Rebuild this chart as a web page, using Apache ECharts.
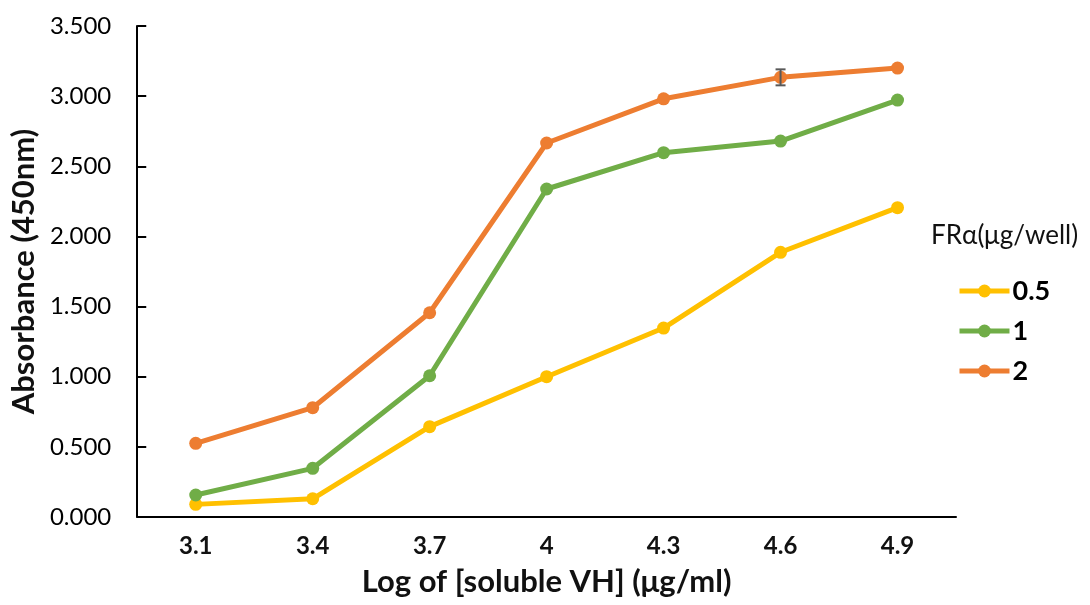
<!DOCTYPE html>
<html lang="en">
<head>
    <meta charset="UTF-8">
    <title>Absorbance</title>
    <script src="https://cdn.jsdelivr.net/npm/echarts@6/dist/echarts.min.js"></script>
    <style>
        html, body { margin: 0; padding: 0; background: #fff; }
        #chart { width: 1090px; height: 605px; }
    </style>
</head>
<body>
<div id="chart"></div>
<script>
    /* data */
    var categories = ['3.1', '3.4', '3.7', '4', '4.3', '4.6', '4.9'];
    var seriesNames = ['0.5', '1', '2'];
    var values05 = [0.09, 0.13, 0.644, 1.0, 1.347, 1.887, 2.205];
    var values1 = [0.157, 0.347, 1.007, 2.338, 2.597, 2.68, 2.972];
    var values2 = [0.525, 0.779, 1.456, 2.666, 2.981, 3.134, 3.2];
    var errors2 = [0, 0, 0, 0, 0, 0.057, 0];

    var colors = ['#FFC000', '#70AD47', '#ED7D31'];
    var font = 'Lato, "Open Sans", sans-serif';

    var errData = [];
    for (var i = 0; i < values2.length; i++) {
        if (errors2[i] > 0) {
            errData.push([i, values2[i] - errors2[i], values2[i] + errors2[i]]);
        }
    }

    function lineSeries(name, data, color) {
        return {
            name: name,
            type: 'line',
            data: data,
            symbol: 'circle',
            symbolSize: 13,
            lineStyle: { width: 5, color: color },
            itemStyle: { color: color },
            z: 3
        };
    }

    var option = {
        animation: false,
        color: colors,
        title: {
            text: 'FRα(μg/well)',
            left: 926,
            top: 218,
            textStyle: { fontFamily: font, fontSize: 26, fontWeight: 'normal', color: '#111' }
        },
        legend: {
            orient: 'vertical',
            left: 952,
            top: 272,
            itemGap: 12,
            itemWidth: 50,
            itemHeight: 16,
            data: seriesNames,
            selectedMode: false,
            lineStyle: { width: 5 },
            textStyle: { fontFamily: font, fontSize: 27, lineHeight: 28, fontWeight: 'bold', color: '#000', padding: [0, 0, 0, -2] }
        },
        grid: {
            left: 134,
            right: 134,
            top: 26,
            bottom: 88
        },
        xAxis: {
            type: 'category',
            data: categories,
            boundaryGap: true,
            name: 'Log of [soluble VH] (μg/ml)',
            nameLocation: 'middle',
            nameGap: 49,
            nameTextStyle: { fontFamily: font, fontSize: 31, fontWeight: 'bold', color: '#111' },
            axisLine: { lineStyle: { color: '#000', width: 2 } },
            axisTick: { show: false },
            axisLabel: { fontFamily: font, fontSize: 24, fontWeight: 'bold', color: '#111', margin: 17 }
        },
        yAxis: {
            type: 'value',
            min: 0,
            max: 3.5,
            interval: 0.5,
            name: 'Absorbance (450nm)',
            nameLocation: 'middle',
            nameGap: 90,
            nameTextStyle: { fontFamily: font, fontSize: 31, fontWeight: 'bold', color: '#111' },
            axisLine: { show: true, lineStyle: { color: '#000', width: 2 } },
            axisTick: { show: true, inside: true, length: 9, lineStyle: { color: '#000', width: 2 } },
            splitLine: { show: false },
            axisLabel: {
                fontFamily: font, fontSize: 24, fontWeight: 'normal', color: '#000', margin: 26,
                formatter: function (v) { return v.toFixed(3); }
            }
        },
        series: [
            lineSeries(seriesNames[0], values05, colors[0]),
            lineSeries(seriesNames[1], values1, colors[1]),
            lineSeries(seriesNames[2], values2, colors[2]),
            {
                name: 'err',
                type: 'custom',
                data: errData,
                z: 10,
                renderItem: function (params, api) {
                    var lo = api.coord([api.value(0), api.value(1)]);
                    var hi = api.coord([api.value(0), api.value(2)]);
                    var w = 5;
                    var style = { stroke: '#595959', lineWidth: 2 };
                    return {
                        type: 'group',
                        children: [
                            { type: 'line', shape: { x1: hi[0], y1: hi[1], x2: lo[0], y2: lo[1] }, style: style },
                            { type: 'line', shape: { x1: hi[0] - w, y1: hi[1], x2: hi[0] + w, y2: hi[1] }, style: style },
                            { type: 'line', shape: { x1: lo[0] - w, y1: lo[1], x2: lo[0] + w, y2: lo[1] }, style: style }
                        ]
                    };
                }
            }
        ]
    };

    var chart = echarts.init(document.getElementById('chart'));
    chart.setOption(option);
</script>
</body>
</html>
